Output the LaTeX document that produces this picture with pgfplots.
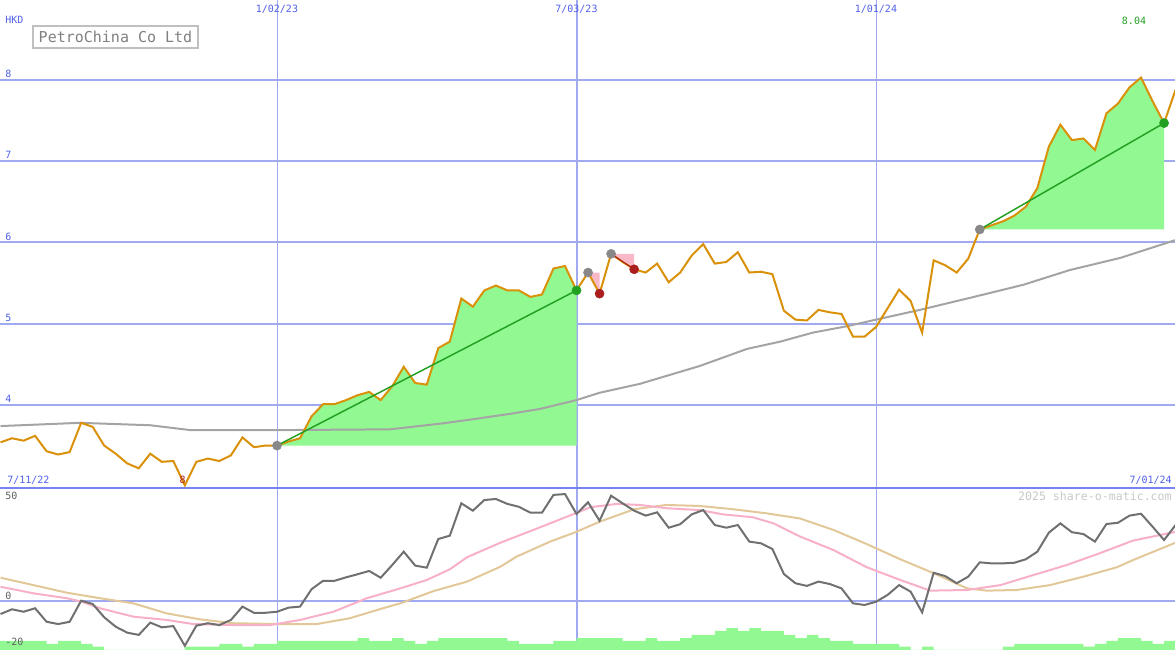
\documentclass[border=0pt]{standalone}
\usepackage{pgfplots}
\pgfplotsset{compat=1.18}
\usepackage{fontspec}
\newfontfamily\pix{DejaVu Sans Mono}

\definecolor{gridblue}{RGB}{160,170,240}
\definecolor{sepblue}{RGB}{120,130,240}
\definecolor{lblblue}{RGB}{80,96,232}
\definecolor{price}{RGB}{218,145,10}
\definecolor{gainfill}{RGB}{146,248,146}
\definecolor{gainline}{RGB}{34,160,34}
\definecolor{lossfill}{RGB}{248,184,200}
\definecolor{lossdot}{RGB}{170,30,30}
\definecolor{dotgrey}{RGB}{136,136,136}
\definecolor{magrey}{RGB}{164,164,164}
\definecolor{oscgrey}{RGB}{112,112,112}
\definecolor{oscpink}{RGB}{248,176,200}
\definecolor{osctan}{RGB}{226,200,152}
\definecolor{titlegrey}{RGB}{128,128,128}
\definecolor{boxgrey}{RGB}{192,192,192}
\definecolor{wmgrey}{RGB}{200,200,200}
\definecolor{lowgrey}{RGB}{96,96,96}

% 1 px of the reference = 0.75pt
\pgfplotsset{
  panel/.style={
    scale only axis, width=881.25pt,
    xmin=-0.045, xmax=101.95,
    axis line style={draw=none},
    tick style={draw=none},
    xticklabels={}, yticklabels={},
    xtick={24,76},
    xmajorgrids, ymajorgrids,
    x grid style={gridblue, line width=0.75pt},
    y grid style={gridblue, line width=1.5pt},
    extra x ticks={50}, extra x tick labels={},
    extra x tick style={x grid style={gridblue, line width=1.5pt}},
    clip marker paths=true,
  },
}
\tikzset{lbl/.style={font=\fontsize{7.5}{9}\pix, inner sep=0pt}}

\begin{document}
\begin{tikzpicture}

% ---- price panel (weekly closes, HKD) ----
\begin{axis}[panel, at={(0,122.25pt)}, anchor=south west, height=365.25pt,
  ymin=2.99, ymax=8.985, ytick={4,5,6,7,8}]

% rising runs
\addplot[fill=gainfill, draw=none] coordinates {
 (24,3.50)(25,3.55)(26,3.59)(27,3.86)(28,4.01)(29,4.01)(30,4.06)(31,4.12)(32,4.16)
 (33,4.06)(34,4.23)(35,4.47)(36,4.27)(37,4.25)(38,4.70)(39,4.78)(40,5.31)(41,5.21)
 (42,5.41)(43,5.47)(44,5.41)(45,5.41)(46,5.33)(47,5.36)(48,5.68)(49,5.71)(50,5.41)(50,3.50)};
\addplot[fill=gainfill, draw=none] coordinates {
 (85,6.16)(86,6.21)(87,6.26)(88,6.33)(89,6.44)(90,6.67)(91,7.18)(92,7.45)(93,7.26)
 (94,7.28)(95,7.14)(96,7.59)(97,7.71)(98,7.91)(99,8.03)(100,7.74)(101,7.47)(101,6.16)};
% falling runs
\addplot[fill=lossfill, draw=none] coordinates {(51,5.63)(52,5.63)(52,5.37)};
\addplot[fill=lossfill, draw=none] coordinates {(53,5.86)(55,5.86)(55,5.67)};

% moving average
\addplot[magrey, line width=1.5pt] coordinates {
 (0,3.74)(6.9,3.78)(13,3.75)(16.5,3.69)(24,3.69)(33.8,3.70)(38.2,3.77)(40.8,3.82)
 (44.2,3.89)(46.8,3.95)(50,4.06)(52,4.15)(55.5,4.26)(60.7,4.48)(64.8,4.69)(67.7,4.78)
 (70.5,4.89)(73.5,4.97)(76.3,5.06)(79.8,5.17)(84.2,5.32)(88.8,5.48)(92.8,5.66)
 (97.2,5.81)(102,6.03)};

% close
\addplot[price, line width=1.5pt] coordinates {
 (0,3.54)(1,3.59)(2,3.56)(3,3.62)(4,3.43)(5,3.39)(6,3.42)(7,3.78)(8,3.73)(9,3.50)
 (10,3.40)(11,3.28)(12,3.22)(13,3.40)(14,3.30)(15,3.31)(16,3.01)(17,3.30)(18,3.34)
 (19,3.31)(20,3.38)(21,3.60)(22,3.48)(23,3.50)(24,3.50)(25,3.55)(26,3.59)(27,3.86)
 (28,4.01)(29,4.01)(30,4.06)(31,4.12)(32,4.16)(33,4.06)(34,4.23)(35,4.47)(36,4.27)
 (37,4.25)(38,4.70)(39,4.78)(40,5.31)(41,5.21)(42,5.41)(43,5.47)(44,5.41)(45,5.41)
 (46,5.33)(47,5.36)(48,5.68)(49,5.71)(50,5.41)(51,5.63)(52,5.37)(53,5.86)(54,5.76)
 (55,5.67)(56,5.63)(57,5.74)(58,5.51)(59,5.63)(60,5.84)(61,5.98)(62,5.74)(63,5.76)
 (64,5.88)(65,5.63)(66,5.64)(67,5.61)(68,5.16)(69,5.05)(70,5.04)(71,5.17)(72,5.14)
 (73,5.12)(74,4.84)(75,4.84)(76,4.96)(77,5.19)(78,5.42)(79,5.28)(80,4.89)(81,5.78)
 (82,5.72)(83,5.63)(84,5.80)(85,6.16)(86,6.21)(87,6.26)(88,6.33)(89,6.44)(90,6.67)
 (91,7.18)(92,7.45)(93,7.26)(94,7.28)(95,7.14)(96,7.59)(97,7.71)(98,7.91)(99,8.03)
 (100,7.74)(101,7.47)(102,7.88)};

% trend lines of the runs
\addplot[gainline, line width=1.1pt] coordinates {(24,3.50)(50,5.41)};
\addplot[gainline, line width=1.1pt] coordinates {(85,6.16)(101,7.47)};
\addplot[lossdot, line width=0.8pt] coordinates {(53,5.86)(55,5.67)};

\addplot[only marks, mark=*, mark size=3.4pt, dotgrey] coordinates {
 (24,3.50)(51,5.63)(53,5.86)(85,6.16)(102,7.88)};
\addplot[only marks, mark=*, mark size=3.4pt, gainline] coordinates {(50,5.41)(101,7.47)};
\addplot[only marks, mark=*, mark size=3.4pt, lossdot] coordinates {(52,5.37)(55,5.67)};

% labels
\node[draw=boxgrey, line width=1.5pt, text=titlegrey, font=\fontsize{11.25}{13}\pix,
      inner xsep=4pt, inner ysep=0pt, minimum height=16.5pt]
  at (rel axis cs:0.0983,0.925) {PetroChina Co Ltd};
\node[lbl, text=lblblue, anchor=west] at (rel axis cs:0.0043,0.959) {HKD};
\node[lbl, text=lblblue] at (rel axis cs:0.2357,0.9815) {1/02/23};
\node[lbl, text=lblblue] at (rel axis cs:0.4906,0.9815) {7/03/23};
\node[lbl, text=lblblue] at (rel axis cs:0.7455,0.9815) {1/01/24};
\node[lbl, text=gainline] at (rel axis cs:0.9651,0.957) {8.04};
\node[lbl, text=lblblue, anchor=base west] at (axis cs:0.39,4.03) {4};
\node[lbl, text=lblblue, anchor=base west] at (axis cs:0.39,5.03) {5};
\node[lbl, text=lblblue, anchor=base west] at (axis cs:0.39,6.03) {6};
\node[lbl, text=lblblue, anchor=base west] at (axis cs:0.39,7.03) {7};
\node[lbl, text=lblblue, anchor=base west] at (axis cs:0.39,8.03) {8};
\node[lbl, text=lblblue, anchor=base west] at (rel axis cs:0.006,0.0072) {7/11/22};
\node[lbl, text=lblblue, anchor=base east] at (rel axis cs:0.9974,0.0072) {7/01/24};
\node[lbl, text=lossdot, anchor=base] at (rel axis cs:0.1555,0.0082) {8};
\end{axis}

% ---- oscillator panel ----
\begin{axis}[panel, at={(0,0)}, anchor=south west, height=122.25pt,
  ymin=-23.66, ymax=55.85, ytick={0}]

% weekly volume-style bars, drawn from the panel floor
\addplot[fill=gainfill, draw=none, const plot] coordinates {
 (-0.045,-23.66)(-0.045,-19.27)(4,-20.73)(5,-19.27)(7,-20.73)(8,-22.05)(9,-23.66)
 (16,-22.05)(19,-20.73)(21,-22.05)(22,-20.73)(24,-19.27)(31,-17.81)(32,-19.27)
 (34,-17.81)(35,-19.27)(36,-20.73)(37,-19.27)(38,-17.81)(44,-19.27)(45,-20.73)
 (48,-19.27)(50,-17.81)(54,-19.27)(56,-17.81)(57,-19.27)(59,-17.81)(60,-16.34)
 (62,-14.39)(63,-12.93)(64,-14.39)(65,-12.93)(66,-14.39)(68,-16.34)(69,-17.81)
 (70,-16.34)(71,-17.81)(72,-19.27)(74,-20.73)(78,-22.05)(79,-23.66)(80,-22.05)
 (81,-23.66)(87,-22.05)(88,-20.73)(94,-22.05)(95,-20.73)(96,-19.27)(97,-17.81)
 (99,-19.27)(100,-20.73)(101,-19.27)(101.95,-19.27)(101.95,-23.66)};

\addplot[osctan, line width=1.5pt] coordinates {
 (0,11.6)(2.85,8.0)(5.74,4.3)(8.64,1.6)(11.53,-0.9)(14.43,-5.8)(17.3,-8.7)(20.2,-10.6)
 (24.0,-11.0)(27.45,-11.0)(30.3,-8.2)(33.2,-3.3)(34.7,-0.9)(37.6,5.1)(40.5,9.7)
 (43.4,17.0)(44.8,21.9)(47.7,29.2)(49.9,33.8)(52.0,38.9)(55.0,45.0)(57.8,47.1)
 (60.7,46.6)(63.6,45.0)(66.5,43.0)(69.4,40.5)(72.3,34.9)(75.2,28.0)(78.1,20.6)
 (81.0,13.8)(83.9,6.4)(85.6,5.3)(88.2,5.6)(91.1,8.0)(94.0,12.1)(96.9,16.7)
 (98.3,20.2)(102,28.7)};
\addplot[oscpink, line width=1.5pt] coordinates {
 (0,7.2)(2.85,4.0)(5.74,1.6)(7.05,-0.1)(8.64,-3.3)(11.53,-7.4)(14.43,-9.0)(16.73,-11.0)
 (20.2,-11.5)(23.4,-11.5)(26.0,-9.0)(28.9,-5.0)(31.8,1.6)(34.7,6.4)(37.0,10.5)
 (39.0,15.7)(40.5,21.6)(43.4,28.7)(46.25,34.9)(49.9,43.0)(51.2,46.0)(53.5,47.6)
 (55.5,47.1)(57.8,45.5)(60.7,44.6)(62.7,42.5)(65.3,41.1)(67.1,38.1)(69.4,31.7)
 (72.3,25.1)(75.2,16.7)(78.1,10.5)(80.7,5.3)(83.9,5.6)(86.8,8.0)(89.65,12.9)
 (92.55,17.8)(95.4,23.5)(98.3,29.7)(102,34.0)};
\addplot[oscgrey, line width=1.5pt] coordinates {
 (0,-6.1)(1,-3.8)(2,-5.0)(3,-3.3)(4,-9.9)(5,-11.0)(6,-9.9)(7,0.4)(8,-1.2)(9,-7.7)
 (10,-12.3)(11,-15.2)(12,-16.3)(13,-10.3)(14,-12.6)(15,-12.0)(16,-21.6)(17,-11.8)
 (18,-10.6)(19,-11.5)(20,-9.0)(21,-2.5)(22,-5.5)(23,-5.5)(24,-5.0)(25,-3.0)(26,-2.5)
 (27,6.0)(28,10.1)(29,10.1)(30,11.8)(31,13.3)(32,14.9)(33,11.6)(34,17.8)(35,24.3)
 (36,17.5)(37,16.5)(38,30.5)(39,32.1)(40,47.9)(41,44.3)(42,49.5)(43,50.0)(44,47.6)
 (45,46.2)(46,43.3)(47,43.3)(48,52.0)(49,52.4)(50,42.7)(51,48.4)(52,39.4)(53,51.6)
 (54,47.9)(55,44.3)(56,41.9)(57,43.5)(58,36.0)(59,37.7)(60,42.5)(61,44.6)(62,37.3)
 (63,36.0)(64,37.3)(65,29.2)(66,28.4)(67,25.6)(68,13.4)(69,8.9)(70,7.6)(71,9.7)
 (72,8.5)(73,6.4)(74,-0.9)(75,-1.7)(76,-0.1)(77,3.2)(78,8.0)(79,4.8)(80,-5.3)
 (81,14.0)(82,12.4)(83,8.9)(84,12.1)(85,19.1)(86,18.6)(87,18.6)(88,18.9)(89,20.6)
 (90,24.3)(91,33.6)(92,38.1)(93,33.8)(94,32.9)(95,29.2)(96,37.8)(97,38.4)(98,41.9)
 (99,42.8)(100,36.5)(101,30.0)(102,37.3)};

\draw[sepblue, line width=2.25pt] (rel axis cs:0,1) -- (rel axis cs:1,1);
\node[lbl, text=lowgrey, anchor=base west] at (rel axis cs:0.0043,0.925) {50};
\node[lbl, text=lowgrey, anchor=base west] at (rel axis cs:0.0043,0.311) {0};
\node[lbl, text=lowgrey, anchor=base west] at (rel axis cs:0.0043,0.0264) {-20};
\node[font=\fontsize{8.7}{10}\pix, text=wmgrey, inner sep=0pt, anchor=base east]
  at (rel axis cs:0.9974,0.92) {2025 share-o-matic.com};
\end{axis}

\pgfresetboundingbox
\useasboundingbox (0,0) rectangle (881.25pt,487.5pt);
\end{tikzpicture}
\end{document}
